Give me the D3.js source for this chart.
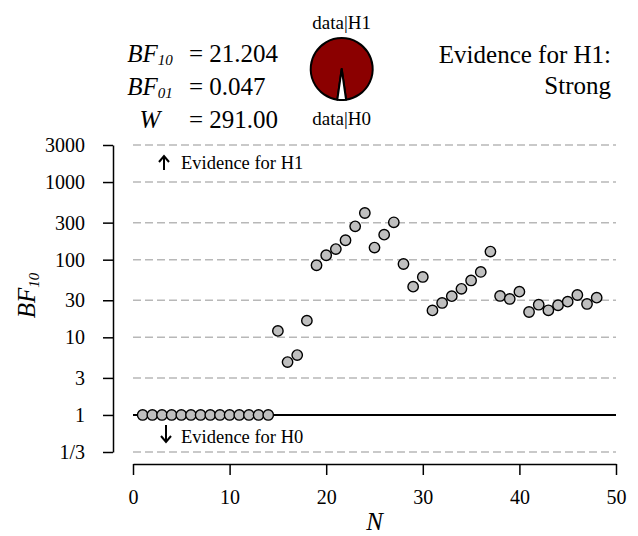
<!DOCTYPE html>
<html>
<head>
<meta charset="utf-8">
<script src="https://cdn.jsdelivr.net/npm/d3@7"></script>
<style>
  html, body { margin: 0; padding: 0; background: #fff; }
  svg { display: block; }
</style>
</head>
<body>
<svg id="chart" width="638" height="536"></svg>
<script>
// ---------- data ----------
const nValues = d3.range(1, 49);
const bf10Values = [
  1, 1, 1, 1, 1, 1, 1, 1, 1, 1, 1, 1, 1, 1,
  12.1, 4.8, 5.9, 16.4, 84.7, 114, 137, 178, 269, 399,
  143, 210, 303, 88, 44.9, 59.9, 22.2, 27.7, 33.9, 42.1,
  54, 69.5, 127, 34.1, 31.2, 38.7, 21.2, 26.3, 22.3, 25.9,
  28.8, 35.1, 26.9, 32.4
];
const yTickValues = [1/3, 1, 3, 10, 30, 100, 300, 1000, 3000];
const yTickLabels = ["1/3", "1", "3", "10", "30", "100", "300", "1000", "3000"];
const xTickValues = [0, 10, 20, 30, 40, 50];
const pieLabels = ["data|H1", "data|H0"];
const pieValues = [21.204, 1];
const statLabels = [["BF", "10"], ["BF", "01"], ["W", ""]];
const statValues = ["21.204", "0.047", "291.00"];
const evidenceText = ["Evidence for H1:", "Strong"];

// ---------- setup ----------
const svg = d3.select("#chart");
const x = d3.scaleLinear().domain([0, 50]).range([133, 616]);
const y = d3.scaleLog().domain([1/3, 3000]).range([452, 145]);

function txt(sel) {
  return sel.style("font-family", "Liberation Serif");
}

// gridlines
svg.append("g").selectAll("line")
  .data(yTickValues.filter(v => v !== 1))
  .join("line")
  .attr("x1", x(0)).attr("x2", x(50))
  .attr("y1", d => y(d)).attr("y2", d => y(d))
  .attr("stroke", "#b8b8b8").attr("stroke-width", 1.5)
  .attr("stroke-dasharray", "8,4");

// line at BF = 1
svg.append("line")
  .attr("x1", x(0)).attr("x2", x(50))
  .attr("y1", y(1)).attr("y2", y(1))
  .attr("stroke", "#000").attr("stroke-width", 2);

// y axis
const yAxis = d3.axisLeft(y)
  .tickValues(yTickValues)
  .tickFormat((d, i) => yTickLabels[i])
  .tickSize(10).tickSizeOuter(0).tickPadding(18);
const gy = svg.append("g").attr("transform", "translate(113,0)").call(yAxis);
txt(gy.selectAll("text")).attr("font-size", 20);
gy.selectAll("line, path").attr("stroke", "#000").attr("stroke-width", 1.5);

// x axis
const xAxis = d3.axisBottom(x)
  .tickValues(xTickValues)
  .tickSize(11).tickSizeOuter(0).tickPadding(15);
const gx = svg.append("g").attr("transform", "translate(0,464)").call(xAxis);
txt(gx.selectAll("text")).attr("font-size", 20);
gx.selectAll("line, path").attr("stroke", "#000").attr("stroke-width", 1.5);

// axis titles
const yl = txt(svg.append("text"))
  .attr("transform", `translate(35,${(y(1/3) + y(3000)) / 2 - 3}) rotate(-90)`)
  .attr("text-anchor", "middle").attr("font-size", 25).style("font-style", "italic");
yl.append("tspan").text("BF");
yl.append("tspan").attr("font-size", 15).attr("dy", 4).text("10");

txt(svg.append("text"))
  .attr("x", (x(0) + x(50)) / 2).attr("y", 530)
  .attr("text-anchor", "middle").attr("font-size", 25).style("font-style", "italic")
  .text("N");

// evidence arrows
function arrow(xc, y0, y1) {
  const dir = y1 < y0 ? 1 : -1;
  svg.append("line").attr("x1", xc).attr("x2", xc).attr("y1", y0).attr("y2", y1)
    .attr("stroke", "#000").attr("stroke-width", 2);
  svg.append("path")
    .attr("d", `M${xc - 5},${y1 + dir * 6} L${xc},${y1} L${xc + 5},${y1 + dir * 6}`)
    .attr("fill", "none").attr("stroke", "#000").attr("stroke-width", 2);
}
arrow(164, 170, 156);
txt(svg.append("text")).attr("x", 181).attr("y", 169).attr("font-size", 18.5).text("Evidence for H1");
arrow(166, 425, 442);
txt(svg.append("text")).attr("x", 181).attr("y", 443).attr("font-size", 18.5).text("Evidence for H0");

// points
svg.append("g").selectAll("circle")
  .data(nValues)
  .join("circle")
  .attr("cx", (d) => x(d))
  .attr("cy", (d, i) => y(bf10Values[i]))
  .attr("r", 5.2)
  .attr("fill", "#bfbfbf").attr("stroke", "#000").attr("stroke-width", 1.4);

// header stats
const rowY = [61.5, 94.5, 127.5];
statLabels.forEach((lab, i) => {
  const t = txt(svg.append("text")).attr("x", 150).attr("y", rowY[i])
    .attr("text-anchor", "middle").attr("font-size", 25).style("font-style", "italic");
  t.append("tspan").text(lab[0]);
  if (lab[1]) t.append("tspan").attr("font-size", 15).attr("dy", 3).text(lab[1]);
  txt(svg.append("text")).attr("x", 189).attr("y", rowY[i]).attr("font-size", 25)
    .text("= " + statValues[i]);
});

// pie
const pcx = 341.7, pcy = 69, pr = 31;
const frac0 = pieValues[1] / d3.sum(pieValues);
const start = Math.PI + Math.PI * frac0;
const pie = d3.pie().sort(null).startAngle(start).endAngle(start + 2 * Math.PI);
const arc = d3.arc().innerRadius(0).outerRadius(pr);
svg.append("g").attr("transform", `translate(${pcx},${pcy})`)
  .selectAll("path")
  .data(pie(pieValues))
  .join("path")
  .attr("d", arc)
  .attr("fill", (d, i) => i === 0 ? "#8b0000" : "#ffffff")
  .attr("stroke", "#000").attr("stroke-width", 2).attr("stroke-linejoin", "round");
txt(svg.append("text")).attr("x", pcx).attr("y", 28.5).attr("text-anchor", "middle")
  .attr("font-size", 19).text(pieLabels[0]);
txt(svg.append("text")).attr("x", pcx).attr("y", 125).attr("text-anchor", "middle")
  .attr("font-size", 19).text(pieLabels[1]);

// evidence category
txt(svg.append("text")).attr("x", 611).attr("y", 63).attr("text-anchor", "end")
  .attr("font-size", 25).text(evidenceText[0]);
txt(svg.append("text")).attr("x", 611).attr("y", 94).attr("text-anchor", "end")
  .attr("font-size", 25).text(evidenceText[1]);
</script>
</body>
</html>
